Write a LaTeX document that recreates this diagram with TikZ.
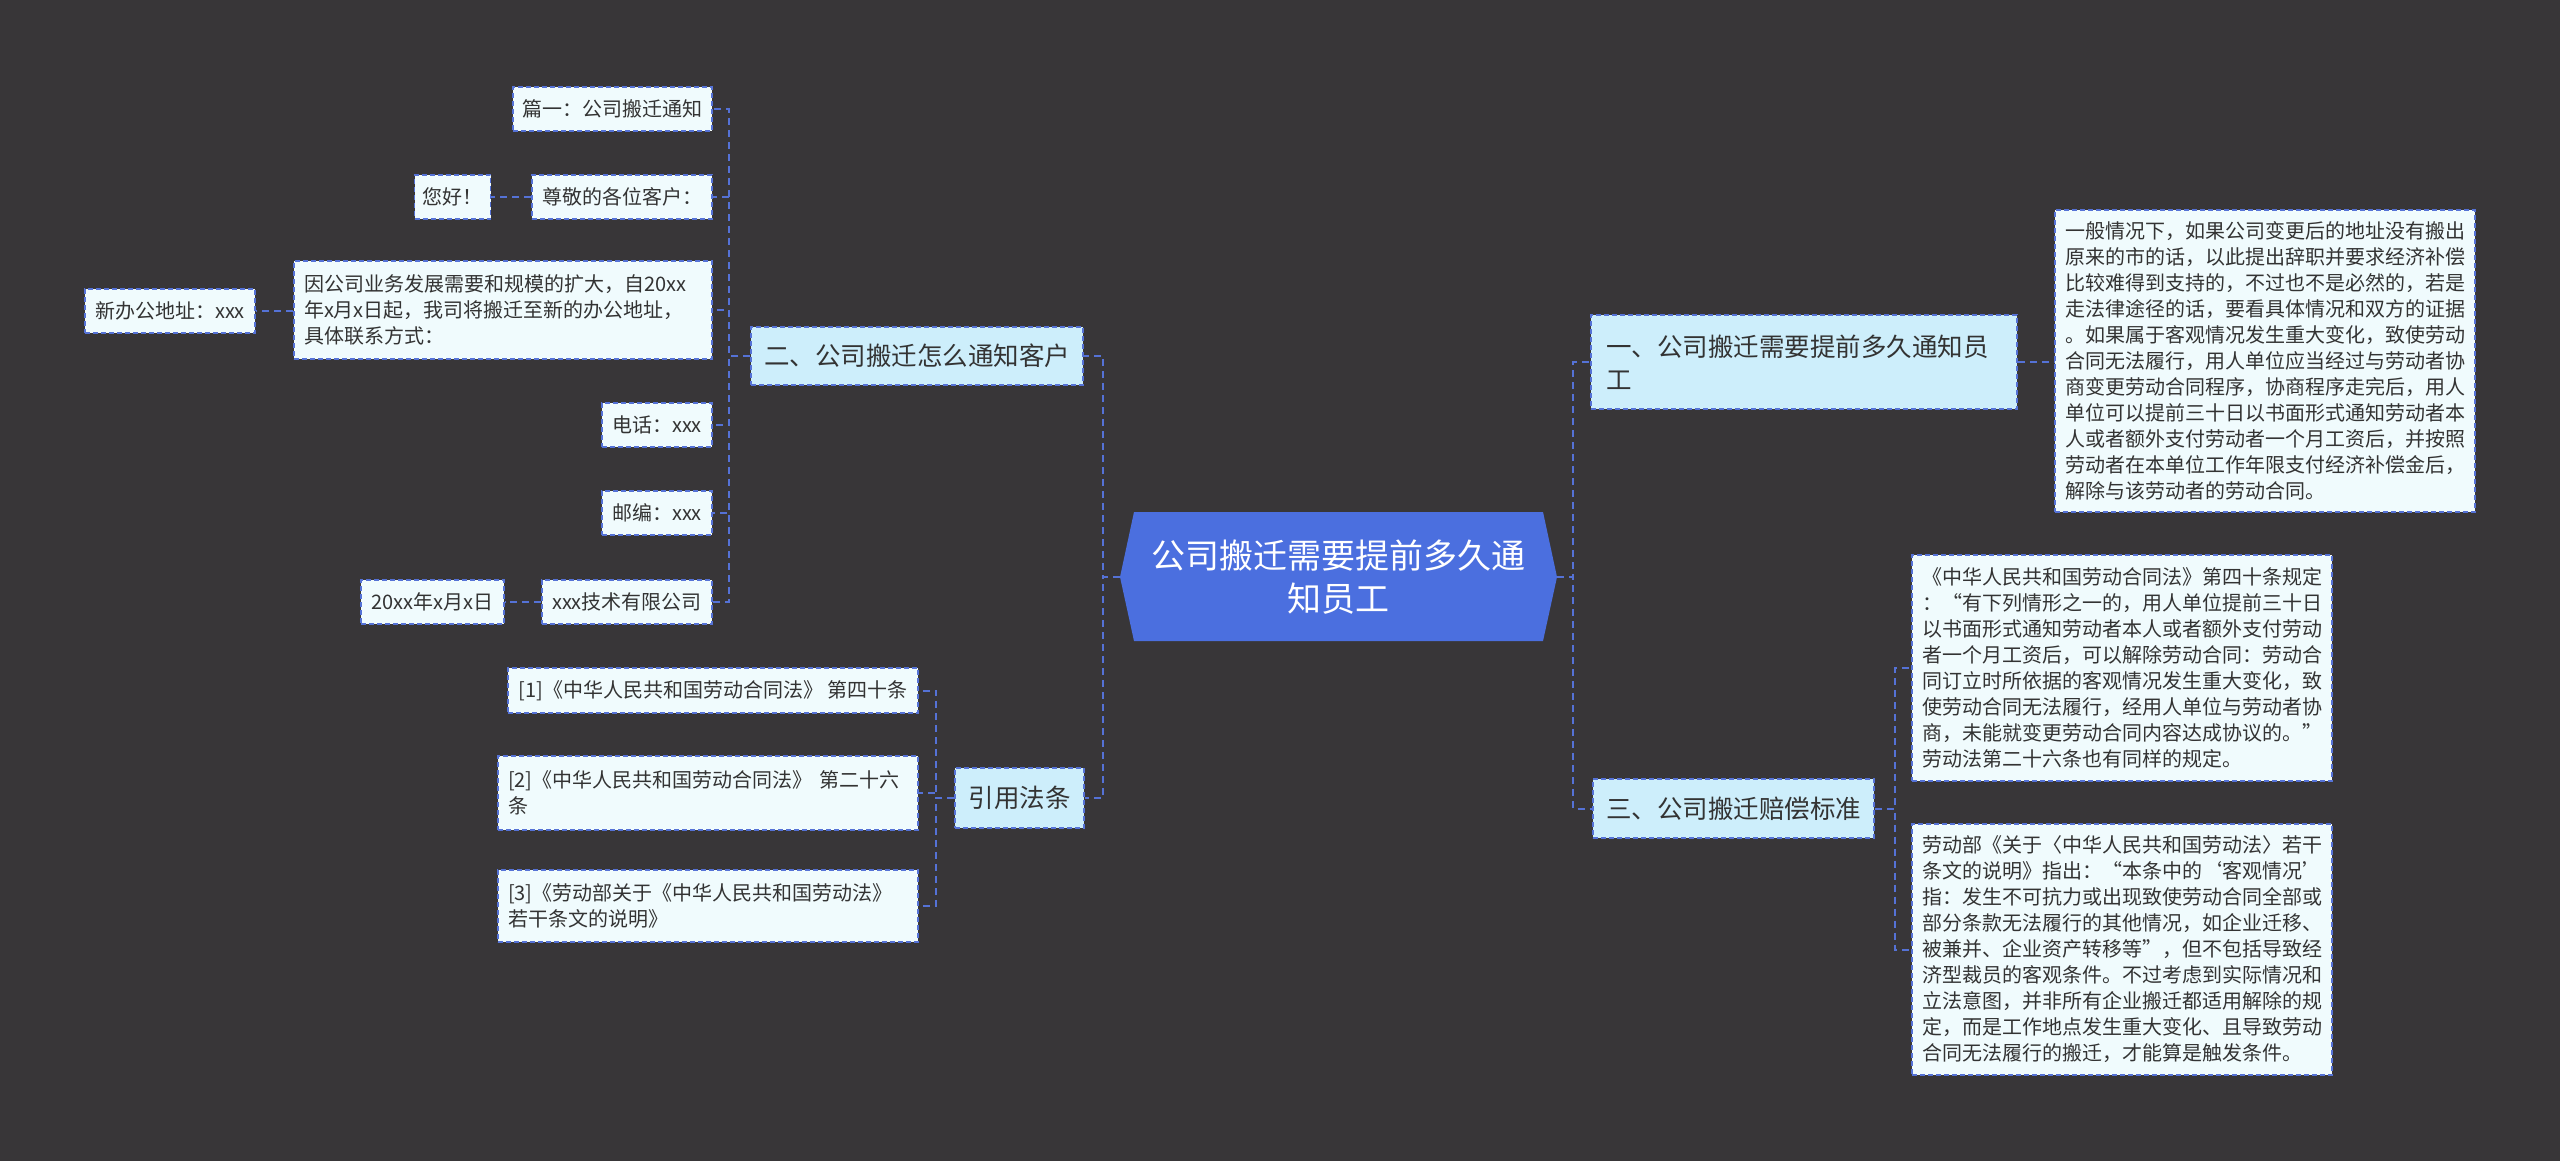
\documentclass[tikz,border=0pt]{standalone}
\usepackage{fontspec}
\setmainfont{Noto Sans CJK SC}
\usetikzlibrary{calc}
\definecolor{bg}{HTML}{383638}
\definecolor{cblue}{HTML}{4B6FDF}
\definecolor{lnblue}{HTML}{5572D6}
\definecolor{lvfill}{HTML}{CDEEFB}
\definecolor{leaffill}{HTML}{F0FBFD}
\definecolor{txt}{HTML}{333333}
\begin{document}
\begin{tikzpicture}[x=1pt,y=-1pt,
 conn/.style={draw=lnblue, line width=2pt, dash pattern=on 7pt off 5pt},
 box/.style={draw=lnblue, line width=1.8pt, dash pattern=on 5pt off 3pt, text=txt, inner xsep=10pt, inner ysep=0pt, anchor=center},
 leaf/.style={box, fill=leaffill, font=\fontsize{20}{26}\selectfont},
 lvl/.style={box, fill=lvfill, font=\fontsize{25.5}{33}\selectfont},
 centre/.style={text=white, font=\fontsize{34}{43}\selectfont, align=center, inner sep=0pt, minimum width=437pt, minimum height=129pt}
]
\useasboundingbox (0,0) rectangle (2560,1161);
\fill[bg] (0,0) rectangle (2560,1161);

% centre
\fill[cblue] (1120,577) -- (1134,512) -- (1543,512) -- (1557,577) -- (1543,641) -- (1134,641) -- cycle;
\node[centre] (c) at (1338.5,577) {公司搬迁需要提前多久通\\知员工};

% right side
\node[lvl, minimum width=426pt, minimum height=94pt, text width=396pt, inner xsep=15pt, align=left] (b1) at (1804,362) {一、公司搬迁需要提前多久通知员\\工};
\node[leaf, minimum height=302pt, text width=400pt, align=left] (b1d) at (2265,361) {一般情况下，如果公司变更后的地址没有搬出\\原来的市的话，以此提出辞职并要求经济补偿\\比较难得到支持的，不过也不是必然的，若是\\走法律途径的话，要看具体情况和双方的证据\\。如果属于客观情况发生重大变化，致使劳动\\合同无法履行，用人单位应当经过与劳动者协\\商变更劳动合同程序，协商程序走完后，用人\\单位可以提前三十日以书面形式通知劳动者本\\人或者额外支付劳动者一个月工资后，并按照\\劳动者在本单位工作年限支付经济补偿金后，\\解除与该劳动者的劳动合同。};

\node[lvl, minimum width=281pt, minimum height=59pt] (b3) at (1733.5,808.5) {三、公司搬迁赔偿标准};
\node[leaf, minimum height=226pt, text width=400pt, align=left] (d1) at (2122,668) {《中华人民共和国劳动合同法》第四十条规定\\：“有下列情形之一的，用人单位提前三十日\\以书面形式通知劳动者本人或者额外支付劳动\\者一个月工资后，可以解除劳动合同：劳动合\\同订立时所依据的客观情况发生重大变化，致\\使劳动合同无法履行，经用人单位与劳动者协\\商，未能就变更劳动合同内容达成协议的。”\\劳动法第二十六条也有同样的规定。};
\node[leaf, minimum height=251pt, text width=400pt, align=left] (d2) at (2122,949.5) {劳动部《关于〈中华人民共和国劳动法〉若干\\条文的说明》指出：“本条中的‘客观情况’\\指：发生不可抗力或出现致使劳动合同全部或\\部分条款无法履行的其他情况，如企业迁移、\\被兼并、企业资产转移等”，但不包括导致经\\济型裁员的客观条件。不过考虑到实际情况和\\立法意图，并非所有企业搬迁都适用解除的规\\定，而是工作地点发生重大变化、且导致劳动\\合同无法履行的搬迁，才能算是触发条件。};

% left side
\node[lvl, minimum width=332pt, minimum height=58pt] (b2) at (917,356) {二、公司搬迁怎么通知客户};
\node[leaf, minimum width=199pt, minimum height=44pt, inner xsep=8pt] (l1) at (612.5,109) {篇一：公司搬迁通知};
\node[leaf, minimum width=180pt, minimum height=44pt, inner xsep=8pt] (l2) at (622,197) {尊敬的各位客户：};
\node[leaf, minimum width=75pt, minimum height=44pt, inner xsep=8pt] (l2a) at (452.5,197) {您好！};
\node[leaf, minimum height=98pt, text width=398pt, align=left] (l3) at (503,310) {因公司业务发展需要和规模的扩大，自20xx\\年x月x日起，我司将搬迁至新的办公地址，\\具体联系方式：};
\node[leaf, minimum width=170pt, minimum height=44pt, inner xsep=8pt] (l3a) at (170,311) {新办公地址：xxx};
\node[leaf, minimum width=110pt, minimum height=44pt, inner xsep=8pt] (l4) at (657,425) {电话：xxx};
\node[leaf, minimum width=110pt, minimum height=44pt, inner xsep=8pt] (l5) at (657,513) {邮编：xxx};
\node[leaf, minimum width=170pt, minimum height=44pt, inner xsep=8pt] (l6) at (627,602) {xxx技术有限公司};
\node[leaf, minimum width=143pt, minimum height=44pt, inner xsep=8pt] (l6a) at (432.5,602) {20xx年x月x日};

\node[lvl, minimum width=129pt, minimum height=60pt] (b4) at (1019.5,798) {引用法条};
\node[leaf, minimum width=410pt, minimum height=45pt, inner xsep=8pt] (r1) at (713,690.5) {[1]《中华人民共和国劳动合同法》 第四十条};
\node[leaf, minimum height=74pt, text width=400pt, align=left] (r2) at (708,793) {[2]《中华人民共和国劳动合同法》 第二十六\\条};
\node[leaf, minimum height=72pt, text width=400pt, align=left] (r3) at (708,906) {[3]《劳动部关于《中华人民共和国劳动法》\\若干条文的说明》};

% connectors
\draw[conn] (c.west) -- ++(-17,0) |- (b2.east);
\draw[conn] (c.west) -- ++(-17,0) |- (b4.east);
\draw[conn] (c.east) -- ++(16,0) |- (b1.west);
\draw[conn] (c.east) -- ++(16,0) |- (b3.west);
\draw[conn] (b1.east) -- (b1.east -| b1d.west);
\draw[conn] (b3.east) -- ++(20,0) |- (d1.west);
\draw[conn] (b3.east) -- ++(20,0) |- (d2.west);
\foreach \n in {l1,l2,l3,l4,l5,l6}{\draw[conn] (b2.west) -- ++(-21,0) |- (\n.east);}
\draw[conn] (l2.west) -- (l2a.east);
\draw[conn] (l3.west |- l3a.east) -- (l3a.east);
\draw[conn] (l6.west) -- (l6a.east);
\foreach \n in {r1,r2,r3}{\draw[conn] (b4.west) -- ++(-18,0) |- (\n.east);}
\end{tikzpicture}
\end{document}
